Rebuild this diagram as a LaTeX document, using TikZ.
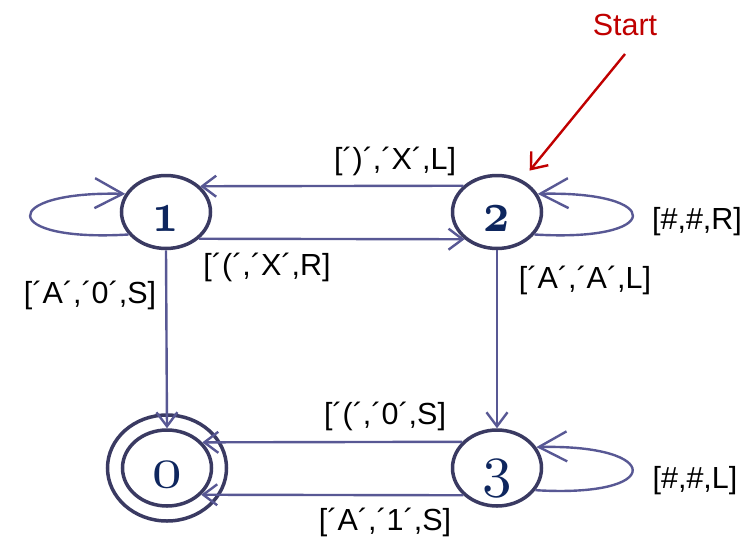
\documentclass[tikz,border=0pt]{standalone}
\usepackage{fontspec}
\usepackage{graphicx}
\setmainfont{Liberation Sans}
\usetikzlibrary{arrows.meta,shapes.geometric}
\font\numfontb=cmmib10 at 57pt
\font\numfontr=cmmi10 at 59pt
\newcommand{\bnum}[1]{\scalebox{0.8}[1]{\numfontb #1}}
\newcommand{\rnum}[1]{{\numfontr #1}}
\definecolor{edgec}{RGB}{88,88,148}
\definecolor{nodec}{RGB}{58,58,98}
\definecolor{numc}{RGB}{14,38,94}
\definecolor{startc}{RGB}{192,0,0}
\begin{document}
\begin{tikzpicture}[x=1pt,y=-1pt,
  state/.style={ellipse, draw=nodec, line width=3.5pt, minimum width=89pt,
    minimum height=73pt, inner sep=0pt, text=numc,
    text height=38pt, text depth=0pt},
  ring/.style={ellipse, draw=nodec, line width=3.5pt, inner sep=0pt},
  edge/.style={draw=edgec, line width=2.4pt,
    -{Straight Barb[length=14pt,width=21pt]}},
  selfloop/.style={draw=edgec, line width=2.4pt,
    -{Straight Barb[length=28pt,width=30pt]}},
  startedge/.style={draw=startc, line width=2.4pt,
    -{Straight Barb[length=14pt,width=22pt]}, shorten >=12pt},
  lab/.style={font=\fontsize{30.5}{36}\selectfont, inner sep=0pt}
]
\useasboundingbox (0,0) rectangle (755,539);

\node[state] (n1) at (166,212) {\bnum{1}};
\node[state] (n2) at (497,212) {\bnum{2}};
\node[state, minimum height=76pt] (n0) at (167,468) {\rnum{0}};
\node[ring, minimum width=119pt, minimum height=106pt] (n0o) at (167,468) {};
\node[state, minimum height=76pt, text height=35pt] (n3) at (497,468) {\rnum{3}};

\node[lab] (l21) at (395,161) {[´)´,´X´,L]};
\node[lab] (l12) at (267,267) {[´(´,´X´,R]};
\node[lab] (l10) at (90,295) {[´A´,´0´,S]};
\node[lab] (l22) at (697,222) {[\#,\#,R]};
\node[lab] (l23) at (585,280) {[´A´,´A´,L]};
\node[lab] (l30a) at (385,416) {[´(´,´0´,S]};
\node[lab] (l30b) at (385,522) {[´A´,´1´,S]};
\node[lab] (l33) at (695,481) {[\#,\#,L]};
\node[lab, text=startc] (st) at (625,25) {Start};

\draw[edge] (n2.142.3) -- (n1.37.7);
\draw[edge] (n1.-39.7) -- (n2.-140.3);
\draw[edge] (n3.143.2) -- (n0.36.8);
\draw[edge] (n3.-141.3) -- (n0.-38.7);
\draw[edge] (n1.south) -- (n0.north);
\draw[edge] (n2.south) -- (n3.north);

\draw[selfloop] (n1.211) .. controls +(-130,8) and +(-127,-3) .. (n1.156);
\draw[selfloop] (n2.-31) .. controls +(130,8) and +(127,-3) .. (n2.24);
\draw[selfloop] (n3.-30) .. controls +(130,8) and +(127,-3) .. (n3.28);

\coordinate (s0) at (625,54);
\draw[startedge] (s0) -- (n2.52.7);
\end{tikzpicture}
\end{document}
